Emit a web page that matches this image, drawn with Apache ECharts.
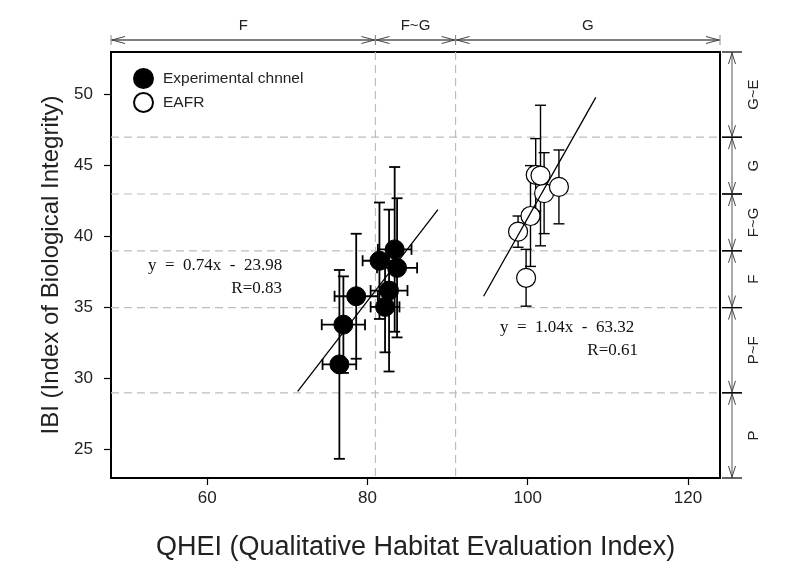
<!DOCTYPE html>
<html><head><meta charset="utf-8">
<script src="https://cdn.jsdelivr.net/npm/echarts@6/dist/echarts.min.js"></script>
<style>html,body{margin:0;padding:0;background:#fff}#c{width:801px;height:567px}</style>
</head><body><div id="c"></div>
<script>
// Experimental channel (filled)
const expX    = [76.5, 77.0, 78.6, 81.5, 83.4, 83.7, 82.7, 82.2];
const expY    = [31.0, 33.8, 35.8, 38.3, 39.1, 37.8, 36.2, 35.05];
const expXErr = [2.1, 2.7, 2.7, 2.1, 2.1, 2.5, 2.3, 1.8];
const expYErr = [6.65, 3.4, 4.4, 4.1, 5.8, 4.9, 5.7, 3.2];
// EAFR (open)
const eafrX    = [99.8, 98.8, 100.35, 102.05, 103.9, 101.0, 101.6];
const eafrY    = [37.1, 40.35, 41.45, 43.06, 43.5, 44.35, 44.3];
const eafrYErr = [2.0, 1.1, 3.55, 2.85, 2.6, 2.55, 4.95];
// regression line end points
const expLineX  = [71.3, 88.8];
const expLineY  = [29.1, 41.9];
const eafrLineX = [94.5, 108.5];
const eafrLineY = [35.8, 49.8];
// class bands
const qheiBounds  = [48, 81, 91, 124];
const qheiClasses = ['F', 'F~G', 'G'];
const ibiBounds   = [23, 29, 35, 39, 43, 47, 53];
const ibiClasses  = ['P', 'P~F', 'F', 'F~G', 'G', 'G~E'];
// ticks
const xTicks = [60, 80, 100, 120];
const yTicks = [25, 30, 35, 40, 45, 50];
const xMin = 48, xMax = 124, yMin = 23, yMax = 53;

const FONT = '"Liberation Sans", Arial, sans-serif';
const SERIF = '"Liberation Serif", "Times New Roman", serif';

const chart = echarts.init(document.getElementById('c'), null, {renderer: 'canvas'});

function errData(xs, ys, exs, eys) {
  return xs.map((x, i) => [x, ys[i], exs ? exs[i] : 0, eys[i]]);
}
function makeErrRender(width) {
  return function (params, api) {
    const x = api.value(0), y = api.value(1), ex = api.value(2), ey = api.value(3);
    const c = api.coord([x, y]);
    const t = api.coord([x, y + ey]), b = api.coord([x, y - ey]);
    const l = api.coord([x - ex, y]), r = api.coord([x + ex, y]);
    const cap = 5.5;
    const st = {stroke: '#000', lineWidth: width};
    const ch = [
      {type: 'line', shape: {x1: c[0], y1: t[1], x2: c[0], y2: b[1]}, style: st},
      {type: 'line', shape: {x1: c[0] - cap, y1: t[1], x2: c[0] + cap, y2: t[1]}, style: st},
      {type: 'line', shape: {x1: c[0] - cap, y1: b[1], x2: c[0] + cap, y2: b[1]}, style: st}
    ];
    if (ex > 0) {
      ch.push({type: 'line', shape: {x1: l[0], y1: c[1], x2: r[0], y2: c[1]}, style: st});
      ch.push({type: 'line', shape: {x1: l[0], y1: c[1] - cap, x2: l[0], y2: c[1] + cap}, style: st});
      ch.push({type: 'line', shape: {x1: r[0], y1: c[1] - cap, x2: r[0], y2: c[1] + cap}, style: st});
    }
    return {type: 'group', children: ch};
  };
}

const topBandData = qheiClasses.map((n, i) => [qheiBounds[i], qheiBounds[i + 1]]);
const rightBandData = ibiClasses.map((n, i) => [ibiBounds[i], ibiBounds[i + 1]]);

function topBandRender(params, api) {
  const s = api.value(0), e = api.value(1);
  const ps = api.coord([s, yMax]), pe = api.coord([e, yMax]);
  const pb = api.coord([s, yMin]);
  const y = ps[1] - 12;
  const x0 = ps[0], x1 = pe[0];
  const chev = {stroke: '#444', fill: null, lineWidth: 1};
  const ch = [
    {type: 'line', shape: {x1: x0, y1: y, x2: x1, y2: y}, style: {stroke: '#000', lineWidth: 1}},
    {type: 'polyline', shape: {points: [[x0 + 14, y - 3.5], [x0 + 1, y], [x0 + 14, y + 3.5]]}, style: chev},
    {type: 'polyline', shape: {points: [[x1 - 14, y - 3.5], [x1 - 1, y], [x1 - 14, y + 3.5]]}, style: chev},
    {type: 'line', shape: {x1: x0, y1: y - 5, x2: x0, y2: y + 5}, style: {stroke: '#888', lineWidth: 1}},
    {type: 'line', shape: {x1: x1, y1: y - 5, x2: x1, y2: y + 5}, style: {stroke: '#888', lineWidth: 1}},
    {type: 'text', style: {text: qheiClasses[params.dataIndex], x: (x0 + x1) / 2, y: y - 14,
      align: 'center', verticalAlign: 'middle', fontSize: 15, fontFamily: FONT, fill: '#222'}}
  ];
  if (s > xMin) {
    ch.push({type: 'line', shape: {x1: x0, y1: ps[1], x2: x0, y2: pb[1]},
      style: {stroke: '#bdbdbd', lineWidth: 1.2, lineDash: [8, 5]}});
  }
  return {type: 'group', children: ch};
}

function rightBandRender(params, api) {
  const s = api.value(0), e = api.value(1);
  const ps = api.coord([xMax, s]), pe = api.coord([xMax, e]);
  const pl = api.coord([xMin, s]);
  const x = ps[0] + 12;
  const y0 = ps[1], y1 = pe[1];
  const chev = {stroke: '#444', fill: null, lineWidth: 1};
  const ch = [
    {type: 'line', shape: {x1: x, y1: y0, x2: x, y2: y1}, style: {stroke: '#555', lineWidth: 1}},
    {type: 'polyline', shape: {points: [[x - 3.5, y0 - 12], [x, y0 - 1], [x + 3.5, y0 - 12]]}, style: chev},
    {type: 'polyline', shape: {points: [[x - 3.5, y1 + 12], [x, y1 + 1], [x + 3.5, y1 + 12]]}, style: chev},
    {type: 'line', shape: {x1: ps[0] + 2, y1: y0, x2: ps[0] + 22, y2: y0}, style: {stroke: '#000', lineWidth: 1.2}},
    {type: 'line', shape: {x1: ps[0] + 2, y1: y1, x2: ps[0] + 22, y2: y1}, style: {stroke: '#000', lineWidth: 1.2}},
    {type: 'text', x: x + 22, y: (y0 + y1) / 2, rotation: Math.PI / 2,
      style: {text: ibiClasses[params.dataIndex], x: 0, y: 0,
      align: 'center', verticalAlign: 'middle', fontSize: 15, fontFamily: FONT, fill: '#222'}}
  ];
  if (s > yMin) {
    ch.push({type: 'line', shape: {x1: pl[0], y1: y0, x2: ps[0], y2: y0},
      style: {stroke: '#bdbdbd', lineWidth: 1.2, lineDash: [8, 5]}});
  }
  return {type: 'group', children: ch};
}

const option = {
  backgroundColor: '#fff',
  animation: false,
  grid: {left: 111, top: 52, right: 81, bottom: 89, show: true, borderColor: '#000', borderWidth: 2, backgroundColor: 'transparent'},
  legend: {
    orient: 'vertical', left: 128, top: 63, itemWidth: 19, itemHeight: 19, itemGap: 3,
    icon: 'circle',
    textStyle: {fontSize: 15.5, fontFamily: FONT, color: '#222', padding: [0, 0, 0, 5]},
    data: ['Experimental chnnel', 'EAFR']
  },
  xAxis: {
    type: 'value', min: xMin, max: xMax,
    name: 'QHEI (Qualitative Habitat Evaluation Index)', nameLocation: 'middle', nameGap: 56,
    nameTextStyle: {fontSize: 27, fontFamily: FONT, color: '#222'},
    axisLine: {show: true, lineStyle: {color: '#000', width: 2}},
    axisTick: {show: true, length: 7, inside: false, lineStyle: {color: '#000', width: 1.2}, customValues: xTicks},
    axisLabel: {fontSize: 17, fontFamily: FONT, color: '#222', margin: 12, customValues: xTicks},
    splitLine: {show: false}
  },
  yAxis: {
    type: 'value', min: yMin, max: yMax,
    name: 'IBI (Index of Biological Integrity)', nameLocation: 'middle', nameGap: 48,
    nameTextStyle: {fontSize: 24, fontFamily: FONT, color: '#222'},
    axisLine: {show: true, lineStyle: {color: '#000', width: 2}},
    axisTick: {show: true, length: 7, inside: false, lineStyle: {color: '#000', width: 1.2}, customValues: yTicks},
    axisLabel: {fontSize: 17, fontFamily: FONT, color: '#222', margin: 18, customValues: yTicks},
    splitLine: {show: false}
  },
  graphic: [
    {type: 'text', left: 148, top: 257, style: {text: 'y  =  0.74x  -  23.98', fontSize: 17, fontFamily: SERIF, fill: '#111'}},
    {type: 'text', right: 801 - 282, top: 280, style: {text: 'R=0.83', fontSize: 17, fontFamily: SERIF, fill: '#111'}},
    {type: 'text', left: 500, top: 319, style: {text: 'y  =  1.04x  -  63.32', fontSize: 17, fontFamily: SERIF, fill: '#111'}},
    {type: 'text', right: 801 - 638, top: 342, style: {text: 'R=0.61', fontSize: 17, fontFamily: SERIF, fill: '#111'}}
  ],
  series: [
    {type: 'custom', name: 'topBands', data: topBandData, encode: {x: [0, 1]}, renderItem: topBandRender, clip: false, silent: true, z: 1},
    {type: 'custom', name: 'rightBands', data: rightBandData, encode: {y: [0, 1]}, renderItem: rightBandRender, clip: false, silent: true, z: 1},
    {type: 'custom', name: 'expErr', data: errData(expX, expY, expXErr, expYErr), encode: {x: 0, y: 1}, renderItem: makeErrRender(1.8), z: 2, silent: true},
    {type: 'custom', name: 'eafrErr', data: errData(eafrX, eafrY, null, eafrYErr), encode: {x: 0, y: 1}, renderItem: makeErrRender(1.4), z: 2, silent: true},
    {type: 'scatter', name: 'Experimental chnnel', data: expX.map((x, i) => [x, expY[i]]), symbol: 'circle', symbolSize: 19,
      itemStyle: {color: '#000', borderColor: '#000', borderWidth: 1, opacity: 1}, z: 3},
    {type: 'scatter', name: 'EAFR', data: eafrX.map((x, i) => [x, eafrY[i]]), symbol: 'circle', symbolSize: 19,
      itemStyle: {color: '#fff', borderColor: '#000', borderWidth: 1.2, opacity: 1}, z: 3},
    {type: 'line', name: 'expFit', data: expLineX.map((x, i) => [x, expLineY[i]]), symbol: 'none',
      lineStyle: {color: '#000', width: 1.3}, z: 4, silent: true},
    {type: 'line', name: 'eafrFit', data: eafrLineX.map((x, i) => [x, eafrLineY[i]]), symbol: 'none',
      lineStyle: {color: '#000', width: 1.3}, z: 4, silent: true}
  ]
};
chart.setOption(option);
</script>
</body></html>
